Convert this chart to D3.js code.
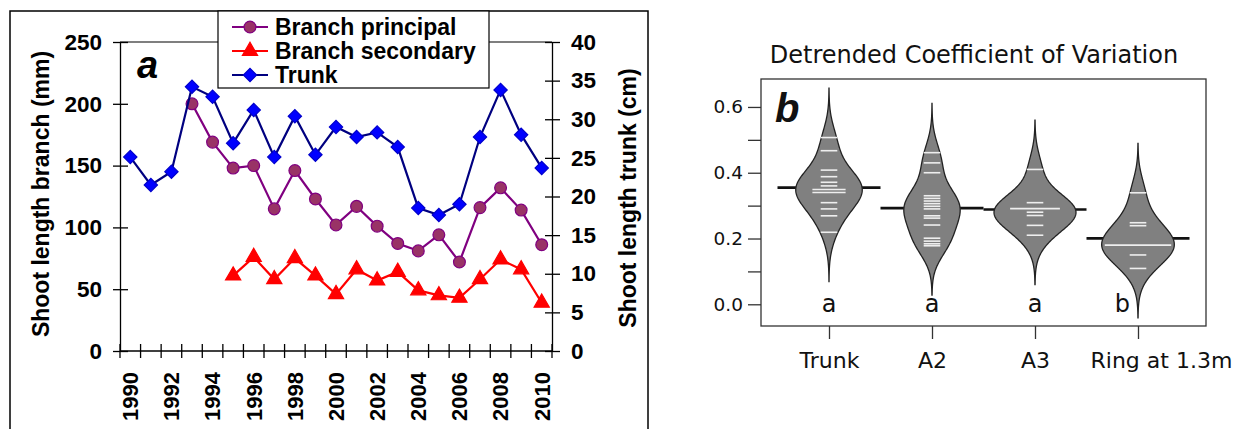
<!doctype html>
<html lang="en">
<head>
    <meta charset="utf-8">
    <title>Shoot length and detrended CV</title>
    <script src="https://d3js.org/d3.v7.min.js"></script>
    <style>
        body { margin: 0; padding: 0; background: #fff; }
        svg { display: block; }
        .pa text { font-family: 'Liberation Sans', Arial, sans-serif; font-weight: bold; fill: #000; }
        .pb text { font-family: 'DejaVu Sans', sans-serif; fill: #111; }
    </style>
</head>
<body>
<div class="home"></div>
<script>
    // ---- panel a data ----
    const years = d3.range(1990, 2011);
    const principal = [null, null, null, 200, 169, 148, 150, 115, 146, 123, 102, 117, 101, 87, 81, 94, 72, 116, 132, 114, 86];
    const secondary = [null, null, null, null, null, 61, 76, 58, 75, 61, 46, 66, 57, 64, 49, 45, 43, 58, 74, 66, 39];
    const trunk = [25.1, 21.5, 23.2, 34.2, 32.9, 26.9, 31.2, 25.1, 30.4, 25.4, 29.0, 27.7, 28.3, 26.4, 18.5, 17.6, 19.0, 27.7, 33.8, 28.0, 23.7];
    const leftTicks = [0, 50, 100, 150, 200, 250];
    const rightTicks = [0, 5, 10, 15, 20, 25, 30, 35, 40];

    // ---- panel b data (detrended CV, one line per value) ----
    const groups = ["Trunk", "A2", "A3", "Ring at 1.3m"];
    const cvTrunk = [0.507, 0.467, 0.408, 0.388, 0.371, 0.360, 0.349, 0.349, 0.340, 0.340, 0.309, 0.290, 0.269, 0.219];
    const cvA2 = [0.461, 0.430, 0.400, 0.330, 0.322, 0.314, 0.306, 0.298, 0.290, 0.269, 0.262, 0.241, 0.201, 0.192, 0.184, 0.178];
    const cvA3 = [0.410, 0.309, 0.291, 0.291, 0.291, 0.280, 0.270, 0.240, 0.210];
    const cvRing = [0.339, 0.248, 0.239, 0.180, 0.180, 0.180, 0.180, 0.150, 0.109];
    const letters = ["a", "a", "a", "b"];
    const cvTicks = [0, 0.1, 0.2, 0.3, 0.4, 0.5, 0.6];

    const width = 1245, height = 429;
    const svg = d3.select(".home").append("svg")
        .attr("width", width).attr("height", height);

    // ================= panel a =================
    const ga = svg.append("g").attr("class", "pa");

    ga.append("rect")
        .attr("x", 10).attr("y", 11).attr("width", 638).attr("height", 440)
        .attr("fill", "none").attr("stroke", "#000").attr("stroke-width", 1.5);

    const x = d3.scaleBand().domain(years).range([120, 552]).padding(0);
    const yL = d3.scaleLinear().domain([0, 250]).range([351, 42]);
    const yR = d3.scaleLinear().domain([0, 40]).range([351, 42]);
    const cx = d => x(d) + x.bandwidth() / 2;

    // top border of the plot area
    ga.append("line")
        .attr("x1", 120).attr("x2", 552).attr("y1", yL(250)).attr("y2", yL(250))
        .attr("stroke", "#000").attr("stroke-width", 1.2);

    const axL = ga.append("g").attr("transform", "translate(120,0)")
        .call(d3.axisLeft(yL).tickValues(leftTicks).tickSizeInner(7).tickSizeOuter(0).tickPadding(11));
    axL.selectAll(".tick line").attr("x1", 8);
    const axR = ga.append("g").attr("transform", "translate(552,0)")
        .call(d3.axisRight(yR).tickValues(rightTicks).tickSizeInner(8).tickSizeOuter(0).tickPadding(11));
    axR.selectAll(".tick line").attr("x1", -7);
    [axL, axR].forEach(a => {
        a.select(".domain").attr("stroke-width", 1.3);
        a.selectAll(".tick line").attr("stroke-width", 1.3);
        a.selectAll("text").style("font-size", "22.5px").attr("font-family", null).attr("font-size", null);
    });

    // x axis: ticks at the year boundaries, labels on every other year
    const gx = ga.append("g");
    gx.append("line").attr("x1", 120).attr("x2", 552).attr("y1", 351).attr("y2", 351)
        .attr("stroke", "#000").attr("stroke-width", 1.3);
    gx.selectAll(".xt").data(years.concat([years[years.length - 1] + 1]))
        .join("line").attr("class", "xt")
        .attr("x1", (d, i) => i < years.length ? x(d) : x.range()[1])
        .attr("x2", (d, i) => i < years.length ? x(d) : x.range()[1])
        .attr("y1", 344).attr("y2", 358)
        .attr("stroke", "#000").attr("stroke-width", 1.3);
    gx.selectAll(".xl").data(years.filter(y => y % 2 === 0))
        .join("text").attr("class", "xl")
        .attr("transform", d => `translate(${cx(d)},372) rotate(-90)`)
        .attr("text-anchor", "end").attr("dy", "0.36em")
        .style("font-size", "22px")
        .text(d => d);

    // axis titles
    ga.append("text")
        .attr("transform", "translate(49,194) rotate(-90)")
        .attr("text-anchor", "middle").style("font-size", "23px")
        .text("Shoot length branch (mm)");
    ga.append("text")
        .attr("transform", "translate(636,198) rotate(-90)")
        .attr("text-anchor", "middle").style("font-size", "23px")
        .text("Shoot length trunk (cm)");

    ga.append("text").attr("x", 137).attr("y", 78)
        .style("font-size", "38px").style("font-style", "italic")
        .text("a");

    // series
    const series = [
        { name: "Branch principal", values: principal, y: yL, line: "#800080", fill: "#993366", stroke: "#800080",
          symbol: d3.symbolCircle, size: 110, rot: 0 },
        { name: "Branch secondary", values: secondary, y: yL, line: "#ff0000", fill: "#ff0000", stroke: "#ff0000",
          symbol: d3.symbolTriangle, size: 100, rot: 0 },
        { name: "Trunk", values: trunk, y: yR, line: "#000080", fill: "#0000ff", stroke: "#0000cc",
          symbol: d3.symbolSquare, size: 88, rot: 45 }
    ];

    series.forEach(s => {
        const pts = years.map((yr, i) => ({ yr: yr, v: s.values[i] }));
        const line = d3.line()
            .defined(d => d.v !== null)
            .x(d => cx(d.yr)).y(d => s.y(d.v));
        ga.append("path").datum(pts)
            .attr("d", line).attr("fill", "none")
            .attr("stroke", s.line).attr("stroke-width", 2.2);
        ga.selectAll(null).data(pts.filter(d => d.v !== null))
            .join("path")
            .attr("transform", d => `translate(${cx(d.yr)},${s.y(d.v)}) rotate(${s.rot})`)
            .attr("d", d3.symbol(s.symbol, s.size))
            .attr("fill", s.fill).attr("stroke", s.stroke).attr("stroke-width", 1.2);
    });

    // legend
    const lg = ga.append("g");
    lg.append("rect").attr("x", 218).attr("y", 11).attr("width", 271).attr("height", 77)
        .attr("fill", "#fff").attr("stroke", "#000").attr("stroke-width", 1.2);
    series.forEach((s, i) => {
        const yy = 27 + i * 24;
        lg.append("line").attr("x1", 232).attr("x2", 268).attr("y1", yy).attr("y2", yy)
            .attr("stroke", s.line).attr("stroke-width", 2.2);
        lg.append("path")
            .attr("transform", `translate(250,${yy}) rotate(${s.rot})`)
            .attr("d", d3.symbol(s.symbol, s.size))
            .attr("fill", s.fill).attr("stroke", s.stroke).attr("stroke-width", 1.2);
        lg.append("text").attr("x", 275).attr("y", yy + 8)
            .style("font-size", "23px").text(s.name);
    });

    // ================= panel b =================
    const gb = svg.append("g").attr("class", "pb");
    const xb = d3.scalePoint().domain(groups).range([829, 1138]);
    const yb = d3.scaleLinear().domain([-0.066, 0.685]).range([326, 79]);
    const bw = 0.05;       // kernel bandwidth, same for every bean
    const maxHalf = 41;    // px, widest bean half width
    const lineUnit = 8.3;  // px half length of one bean line

    gb.append("text").attr("x", 974).attr("y", 63)
        .attr("text-anchor", "middle").style("font-size", "24px")
        .text("Detrended Coefficient of Variation");

    const data = [cvTrunk, cvA2, cvA3, cvRing];
    const kde = (vals, t) => d3.sum(vals, v => Math.exp(-0.5 * ((t - v) / bw) ** 2)) / (vals.length * bw * Math.sqrt(2 * Math.PI));
    const beans = data.map((vals, i) => {
        const lo = d3.min(vals) - 3 * bw, hi = d3.max(vals) + 3 * bw;
        const pts = d3.range(0, 201).map(k => {
            const t = lo + (hi - lo) * k / 200;
            return { t: t, d: kde(vals, t) };
        });
        return { name: groups[i], vals: vals, pts: pts, lo: lo, mean: d3.mean(vals) };
    });
    const dmax = d3.max(beans, b => d3.max(b.pts, p => p.d));
    const wScale = d3.scaleLinear().domain([0, dmax]).range([0, maxHalf]);

    beans.forEach((b, i) => {
        const c = xb(b.name);
        // mean line (behind the bean)
        gb.append("line").attr("x1", c - 51.5).attr("x2", c + 51.5)
            .attr("y1", yb(b.mean)).attr("y2", yb(b.mean))
            .attr("stroke", "#111").attr("stroke-width", 2.6);
        const area = d3.area()
            .y(p => yb(p.t))
            .x0(p => c - wScale(p.d))
            .x1(p => c + wScale(p.d));
        gb.append("path").datum(b.pts).attr("d", area)
            .attr("fill", "#808080").attr("stroke", "#222").attr("stroke-width", 1.3);
        // one white line per value, stacked for ties
        const counts = d3.rollups(b.vals, v => v.length, v => v);
        gb.selectAll(null).data(counts).join("line")
            .attr("x1", d => c - d[1] * lineUnit).attr("x2", d => c + d[1] * lineUnit)
            .attr("y1", d => yb(d[0])).attr("y2", d => yb(d[0]))
            .attr("stroke", "#eeeeee").attr("stroke-width", 1.6);
        // significance letter, moved aside when the bean tail reaches it
        const clash = b.lo < 0;
        gb.append("text")
            .attr("x", clash ? c - 8 : c).attr("y", yb(0)).attr("dy", "0.33em")
            .attr("text-anchor", clash ? "end" : "middle")
            .style("font-size", "24px").text(letters[i]);
    });

    gb.append("rect").attr("x", 761).attr("y", 79).attr("width", 445).attr("height", 247)
        .attr("fill", "none").attr("stroke", "#333").attr("stroke-width", 1.3);

    const ayb = gb.append("g").attr("transform", "translate(761,0)")
        .call(d3.axisLeft(yb).tickValues(cvTicks).tickSize(13).tickPadding(5)
            .tickFormat(d => (Math.round(d * 10) % 2 === 0) ? d.toFixed(1) : ""));
    ayb.select(".domain").remove();
    ayb.selectAll(".tick line").attr("stroke", "#333").attr("stroke-width", 1.3);
    ayb.selectAll("text").attr("font-family", null).attr("font-size", null)
        .style("font-size", "18.5px").attr("fill", "#111");

    const axb = gb.append("g").attr("transform", "translate(0,326)")
        .call(d3.axisBottom(xb).tickSize(13).tickPadding(13));
    axb.select(".domain").remove();
    axb.selectAll(".tick line").attr("stroke", "#333").attr("stroke-width", 1.3);
    axb.selectAll("text").attr("font-family", null).attr("font-size", null)
        .style("font-size", "22px").attr("fill", "#111");
    // the last label sits to the right of its tick, as in the source figure
    axb.selectAll(".tick:last-of-type text").attr("text-anchor", "start").attr("x", -48);

    gb.append("text").attr("x", 775).attr("y", 122)
        .style("font-family", "'Liberation Sans', Arial, sans-serif")
        .style("font-weight", "bold").style("font-style", "italic")
        .style("font-size", "40px").text("b");
</script>
</body>
</html>
